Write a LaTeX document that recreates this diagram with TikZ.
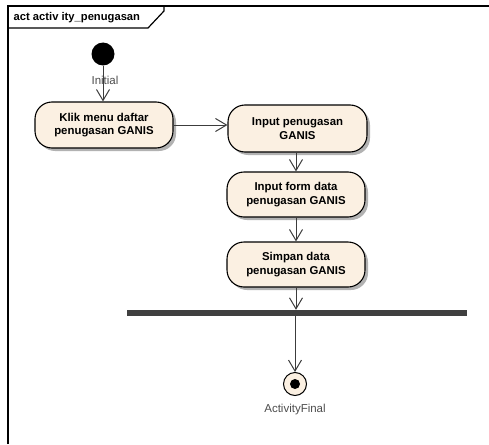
\documentclass[tikz,border=0pt]{standalone}
\usepackage{fontspec}
\setmainfont{Liberation Sans}
\usetikzlibrary{arrows.meta,shadows}
\definecolor{actfill}{HTML}{FBF0E2}
\definecolor{flowgray}{HTML}{3C3C3C}
\begin{document}
\begin{tikzpicture}[x=1pt,y=-1pt,
  action/.style={draw=black, line width=1.1pt, fill=actfill, rounded corners=17pt,
    minimum width=138pt, minimum height=46pt, align=center, inner sep=2pt,
    font=\fontsize{11.4}{13.3}\selectfont\bfseries,
    drop shadow={shadow xshift=3pt, shadow yshift=-3pt, fill=black!30, opacity=1}},
  flow/.style={draw=flowgray, line width=1pt, -{Straight Barb[length=11pt,width=13pt,line width=1pt]}},
  caption/.style={text=black!70, font=\fontsize{11.5}{13}\selectfont, inner sep=0pt}
]
\useasboundingbox (0,0) rectangle (489,444);

% diagram frame and its name tab
\draw[line width=1.6pt] (8,444) -- (8,6) -- (489,6);
\draw[line width=1.2pt] (8,28) -- (148,28) -- (164,11) -- (164,6);
\node[anchor=west, inner sep=0pt, font=\fontsize{11.2}{12}\selectfont\bfseries] (title) at (13.5,17.5) {act activ ity\_penugasan};

% initial node
\node[circle, fill=black, minimum size=23pt, inner sep=0pt] (init) at (103,54) {};

% actions
\node[action] (klik) at (104,125) {Klik menu daftar\\penugasan GANIS};
\node[action, minimum width=139pt, minimum height=47pt] (inpen) at (297.5,128.5) {Input penugasan\\GANIS};
\node[action, minimum height=45pt] (inform) at (296,194.5) {Input form data\\penugasan GANIS};
\node[action, minimum height=45pt] (simpan) at (296,264.5) {Simpan data\\penugasan GANIS};

% join bar
\node[rectangle, fill=black!75, minimum width=340pt, minimum height=6pt, inner sep=0pt] (bar) at (297,313) {};

% final node
\node[circle, draw=black, line width=1pt, fill=actfill, minimum size=23pt, inner sep=0pt] (final) at (295,384) {};
\node[circle, fill=black, minimum size=10pt, inner sep=0pt] (finaldot) at (final.center) {};

% control flows
\draw[flow] (init.south) -- (klik.north -| init.south);
\draw[flow] (klik.east) -- (klik.east -| inpen.west);
\draw[flow] (inpen.south -| simpan.north) -- (inform.north);
\draw[flow] (inform.south) -- (simpan.north);
\draw[flow] (simpan.south) -- (bar.north -| simpan.south);
\draw[flow] (bar.south -| final.north) -- (final.north);

% node names
\node[caption] (initlbl) at (105,80) {Initial};
\node[caption] (finallbl) at (295,410) {ActivityFinal};
\end{tikzpicture}
\end{document}
